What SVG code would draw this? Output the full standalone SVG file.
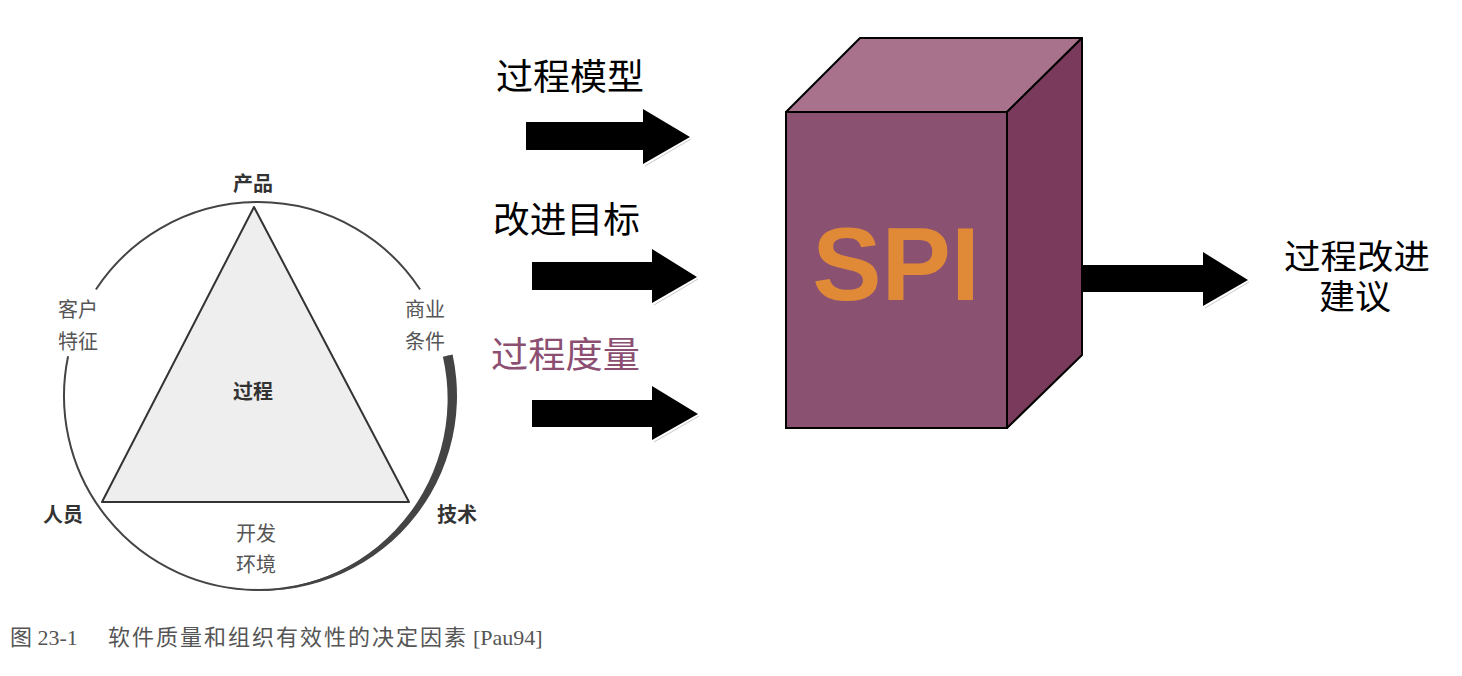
<svg xmlns="http://www.w3.org/2000/svg" width="1462" height="676" viewBox="0 0 1462 676">
<style>
.lbl{font-family:"Noto Sans CJK SC","Liberation Sans",sans-serif;font-size:20px;fill:#555;text-anchor:middle}
.lblb{font-family:"Noto Sans CJK SC","Liberation Sans",sans-serif;font-size:20px;fill:#333;font-weight:bold;text-anchor:middle}
.big{font-family:"Noto Sans CJK SC","Liberation Sans",sans-serif;font-size:36px;fill:#000}
.cap{font-family:"Liberation Serif","Noto Sans CJK SC",serif;font-size:22px;fill:#555}
.arrow{fill:#000}
.shadow{stroke:#c8c8c8;stroke-width:1;fill:none}
.ring{fill:none;stroke:#444;stroke-width:2}
</style>
<rect width="1462" height="676" fill="#fff"/>
<g id="factor-diagram">
  <path class="ring" d="M447.8 355.7 A194 194 0 1 1 68.1 356.3"/>
  <path class="ring" d="M95.9 289.5 A194 194 0 0 1 420.1 289.5"/>
  <path d="M442.9 356.7 A191 191 0 0 1 224.3 587.1 A195 195 0 0 0 452.6 354.6 Z" fill="#444"/>
  <polygon points="254,207 102,502 409,502" fill="#eeeeee" stroke="#333" stroke-width="2" stroke-linejoin="round"/>
</g>
<g id="label-product"><text class="lblb" x="253" y="191">产品</text></g>
<g id="label-customer"><text class="lbl" x="78" y="317">客户</text><text class="lbl" x="78" y="349">特征</text></g>
<g id="label-business"><text class="lbl" x="425" y="317">商业</text><text class="lbl" x="425" y="349">条件</text></g>
<g id="label-process"><text class="lblb" x="253" y="399">过程</text></g>
<g id="label-people"><text class="lblb" x="63" y="522">人员</text></g>
<g id="label-technology"><text class="lblb" x="457" y="522">技术</text></g>
<g id="label-environment"><text class="lbl" x="256" y="541">开发</text><text class="lbl" x="256" y="572">环境</text></g>
<g id="caption">
  <text class="cap" y="645"><tspan x="10">图 23-1</tspan><tspan x="108" textLength="358" lengthAdjust="spacing" font-size="22">软件质量和组织有效性的决定因素</tspan><tspan x="473">[Pau94]</tspan></text>
</g>
<g id="input-process-model"><text class="big" x="496" y="90" textLength="148" lengthAdjust="spacingAndGlyphs">过程模型</text></g>
<g id="input-improvement-goals"><text class="big" x="493" y="233" textLength="147" lengthAdjust="spacingAndGlyphs">改进目标</text></g>
<g id="input-process-measurement"><text class="big" x="491" y="368" textLength="149" lengthAdjust="spacingAndGlyphs" style="fill:#8c4f72">过程度量</text></g>
<g id="spi">
  <polygon points="786,112 860,38 1082,38 1007,112" fill="#a8718c" stroke="#000" stroke-width="2" stroke-linejoin="round"/>
  <polygon points="1007,112 1082,38 1082,355 1007,428" fill="#793a5b" stroke="#000" stroke-width="2" stroke-linejoin="round"/>
  <rect x="786" y="112" width="221" height="316" fill="#8a5171" stroke="#000" stroke-width="2"/>
  <text x="896" y="300" text-anchor="middle" font-family="Liberation Sans, Arial, sans-serif" font-weight="bold" font-size="104" fill="#e08a38">SPI</text>
</g>
<g id="output-suggestions">
  <text class="big" x="1357" y="269" text-anchor="middle" style="font-size:34px" textLength="146" lengthAdjust="spacingAndGlyphs">过程改进</text>
  <text class="big" x="1355" y="309" text-anchor="middle" style="font-size:34px" textLength="72" lengthAdjust="spacingAndGlyphs">建议</text>
</g>
<g id="connectors">
  <polygon class="arrow" points="526,122 643,122 643,109 690,137 643,164 643,150 526,150"/>
  <line class="shadow" x1="691" y1="139" x2="645" y2="166"/>
  <polygon class="arrow" points="532,262 652,262 652,249 697,277 652,303 652,290 532,290"/>
  <line class="shadow" x1="698" y1="279" x2="654" y2="305"/>
  <polygon class="arrow" points="532,400 652,400 652,386 698,414 652,440 652,427 532,427"/>
  <line class="shadow" x1="699" y1="416" x2="654" y2="442"/>
  <polygon class="arrow" points="1083,265 1203,265 1203,252 1248,280 1203,306 1203,292 1083,292"/>
  <line class="shadow" x1="1249" y1="282" x2="1205" y2="308"/>
</g>
</svg>
